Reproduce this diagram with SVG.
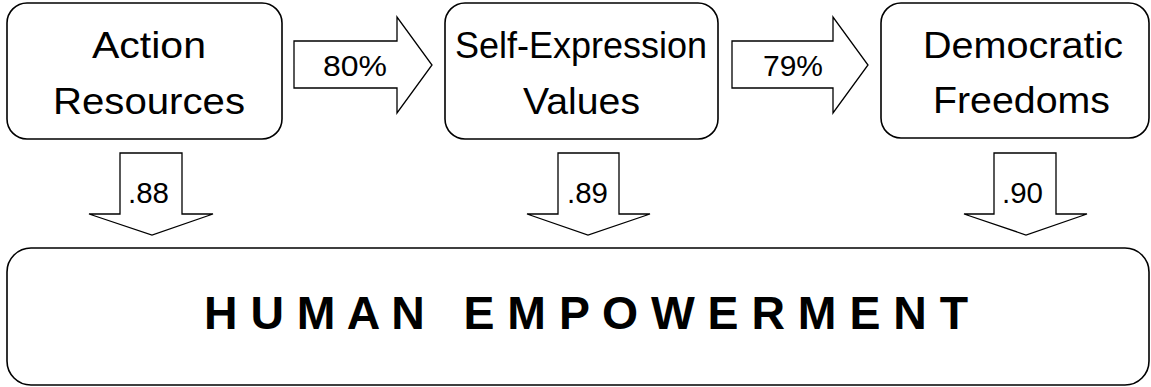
<svg xmlns="http://www.w3.org/2000/svg" width="1151" height="387" viewBox="0 0 1151 387">
<style>
.box{fill:#fff;stroke:#000;stroke-width:1.6}
.arr{fill:#fff;stroke:#000;stroke-width:1.3;stroke-linejoin:miter}
.t{font-family:"Liberation Sans",Arial,sans-serif;font-size:37px;text-anchor:middle;fill:#000}
.l{font-family:"Liberation Sans",Arial,sans-serif;font-size:29px;text-anchor:middle;fill:#000}
.big{font-family:"Liberation Sans",Arial,sans-serif;font-size:46px;font-weight:bold;text-anchor:middle;fill:#000;white-space:pre}
</style>
<rect width="1151" height="387" fill="#fff"/>
<g id="connectors">
<g id="arrow-80">
<polygon class="arr" points="294,41 397,41 397,17 432,65 397,113 397,88 294,88"/>
<text class="l" x="355" y="76" textLength="64" lengthAdjust="spacingAndGlyphs">80%</text>
</g>
<g id="arrow-79">
<polygon class="arr" points="732,41 833,41 833,17 868,65 833,113 833,88 732,88"/>
<text class="l" x="793" y="76" textLength="60" lengthAdjust="spacingAndGlyphs">79%</text>
</g>
<g id="arrow-88">
<polygon class="arr" points="120,153 182,153 182,214 213,214 152,235 89,214 120,214"/>
<text class="l" x="148.5" y="203" textLength="41" lengthAdjust="spacingAndGlyphs">.88</text>
</g>
<g id="arrow-89">
<polygon class="arr" points="558,153 619,153 619,214 650,214 588,235 527,214 558,214"/>
<text class="l" x="587.5" y="203" textLength="41" lengthAdjust="spacingAndGlyphs">.89</text>
</g>
<g id="arrow-90">
<polygon class="arr" points="994,153 1056,153 1056,214 1087,214 1026,235 964,214 994,214"/>
<text class="l" x="1022.5" y="203" textLength="41" lengthAdjust="spacingAndGlyphs">.90</text>
</g>
</g>
<g id="node-action-resources">
<rect class="box" x="7" y="3" width="275" height="136" rx="20" ry="20"/>
<text class="t" x="149" y="58" textLength="114" lengthAdjust="spacingAndGlyphs">Action</text>
<text class="t" x="149" y="114" textLength="192" lengthAdjust="spacingAndGlyphs">Resources</text>
</g>
<g id="node-self-expression">
<rect class="box" x="445" y="3" width="273" height="136" rx="20" ry="20"/>
<text class="t" x="581" y="58" textLength="252" lengthAdjust="spacingAndGlyphs">Self-Expression</text>
<text class="t" x="581.5" y="114" textLength="117" lengthAdjust="spacingAndGlyphs">Values</text>
</g>
<g id="node-democratic-freedoms">
<rect class="box" x="881" y="3" width="268" height="135" rx="20" ry="20"/>
<text class="t" x="1023" y="58" textLength="200" lengthAdjust="spacingAndGlyphs">Democratic</text>
<text class="t" x="1021.5" y="113" textLength="177" lengthAdjust="spacingAndGlyphs">Freedoms</text>
</g>
<g id="node-human-empowerment">
<rect class="box" x="7" y="248" width="1142" height="137" rx="24" ry="24"/>
<text class="big" x="586" y="329" xml:space="preserve" textLength="764" lengthAdjust="spacingAndGlyphs">H U M A N   E M P O W E R M E N T</text>
</g>
</svg>
